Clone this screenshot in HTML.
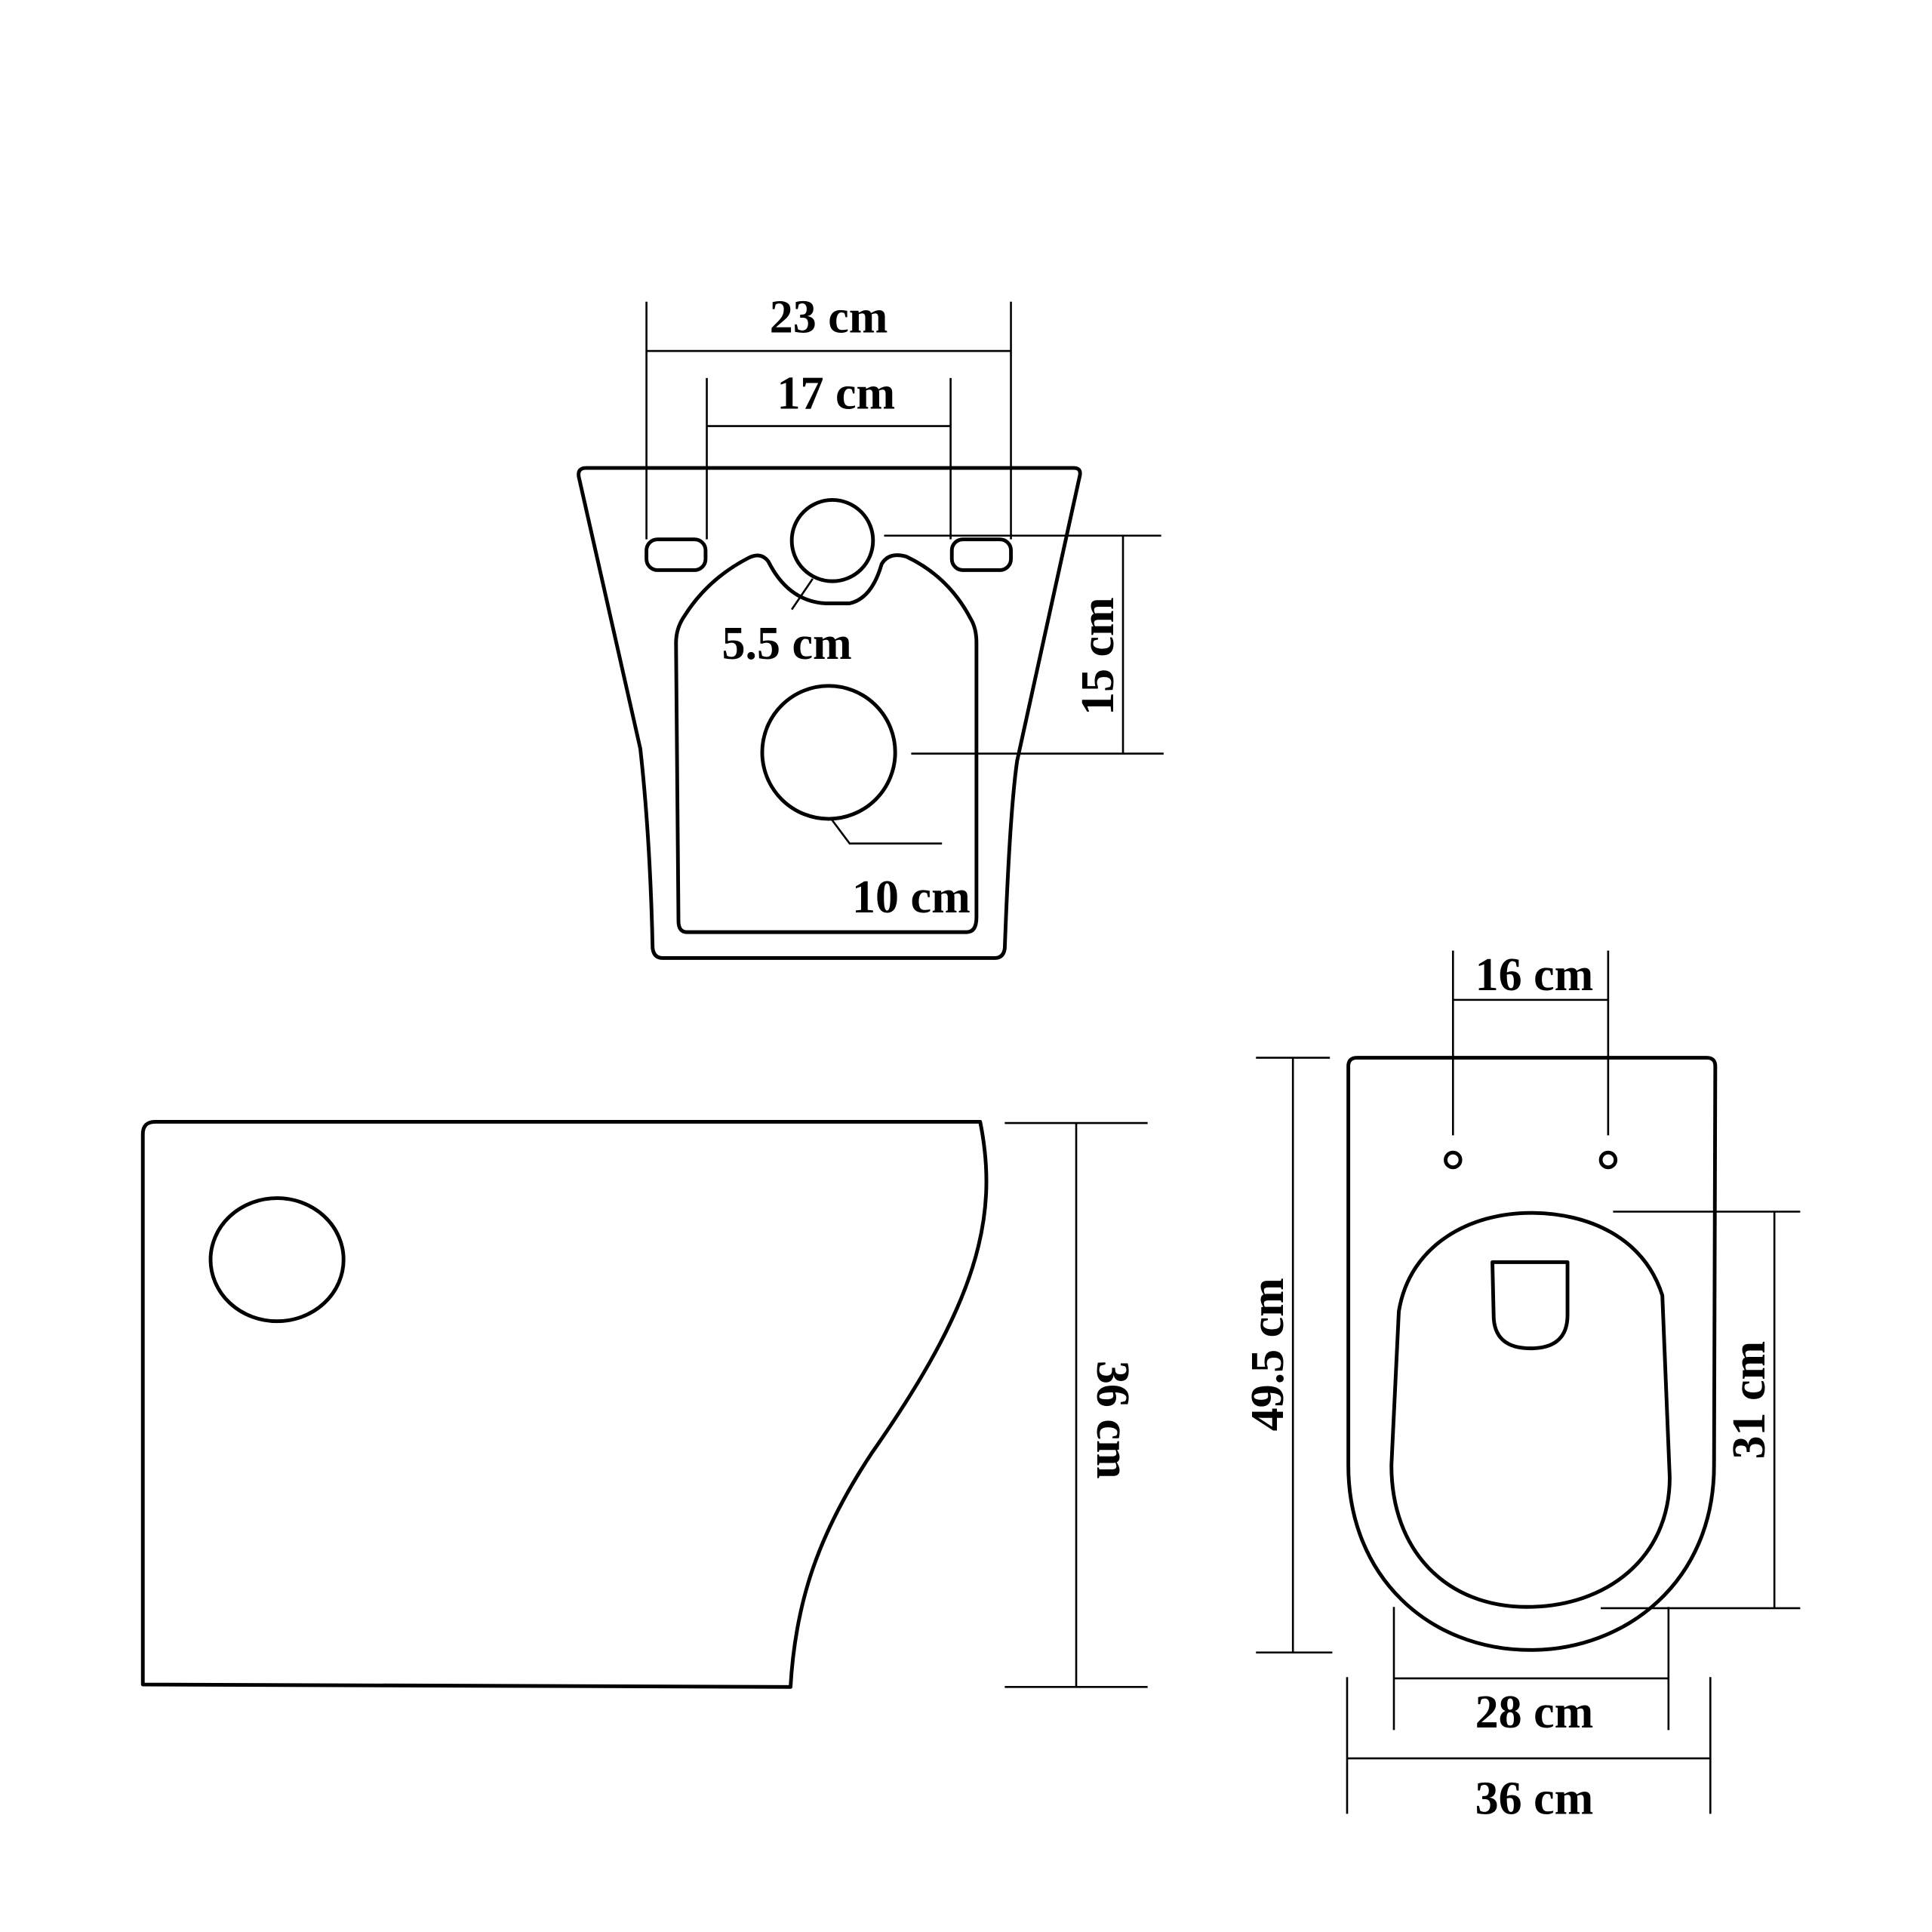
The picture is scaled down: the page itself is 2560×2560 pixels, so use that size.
<!DOCTYPE html>
<html><head><style>html,body{margin:0;padding:0;background:#fff}svg{display:block}
text{font-family:"Liberation Serif",serif;font-weight:bold;font-size:38px;fill:#000}</style></head>
<body>
<svg width="2560" height="2560" viewBox="0 0 1569 1569" xmlns="http://www.w3.org/2000/svg">
<g fill="none" stroke="#000" stroke-width="3" stroke-linejoin="round">
<path d="M476,380 L872,380 Q878,380 877,386 L826,618 Q820,660 816,770 Q815,778 808,778 L538,778 Q531,778 530,770 Q528,680 520,608 L470,387 Q469,380 476,380 Z"/>
<path d="M558,757 Q551,757 551,748 L549,522 Q549,510 556,500 Q575,470 608,453 Q618,448 624,456 Q640,488 670,490 L690,490 Q708,486 716,458 Q722,448 736,452 Q770,468 788,502 Q793,510 793,522 L793,745 Q793,757 785,757 Z"/>
<rect x="525" y="438" width="48" height="25" rx="9"/>
<rect x="773" y="438" width="48" height="25" rx="9"/>
<circle cx="676" cy="439" r="33"/>
<circle cx="673" cy="611" r="54"/>
<path d="M126,911 L796,911 C812,990 792,1060 708,1180 C665,1245 646,1300 642,1370 L116,1368 L116,921 Q116,911 126,911 Z"/>
<ellipse cx="225" cy="1023" rx="54" ry="50"/>
<path d="M1102,859 L1386,859 Q1393,859 1393,866 L1392,1190 C1392,1285 1320,1340 1243,1340 C1160,1340 1095,1280 1095,1190 L1095,866 Q1095,859 1102,859 Z"/>
<path d="M1136,1065 C1145,1010 1195,985 1243,985 C1290,985 1335,1005 1350,1052 L1356,1200 C1356,1265 1305,1305 1240,1305 C1175,1305 1130,1260 1130,1190 Z"/>
<path d="M1212,1025 L1273,1025 L1273,1068 Q1273,1095 1243,1095 Q1213,1095 1213,1068 Z"/>
<circle cx="1180" cy="942" r="6"/>
<circle cx="1306" cy="942" r="6"/>
</g>
<g fill="none" stroke="#000" stroke-width="1.6">
<path d="M525,245V438M821,245V438M525,285H821M574,307V438M772,307V438M574,346H772"/>
<path d="M718,435H943M740,612H945M912,435V612"/>
<path d="M660,470L643,495M675,665L690,685H765"/>
<path d="M816,912H932M816,1370H932M874,912V1370"/>
<path d="M1180,772V922M1306,772V922M1180,812H1306"/>
<path d="M1020,859H1080M1020,1342H1082M1050,859V1342"/>
<path d="M1310,984H1462M1300,1306H1462M1441,984V1306"/>
<path d="M1132,1305V1405M1355,1305V1405M1132,1363H1355"/>
<path d="M1094,1362V1473M1389,1362V1473M1094,1428H1389"/>
</g>
<text x="673" y="270" text-anchor="middle">23 cm</text>
<text x="679" y="332" text-anchor="middle">17 cm</text>
<text x="639" y="535" text-anchor="middle">5.5 cm</text>
<text x="740" y="741" text-anchor="middle">10 cm</text>
<text transform="translate(904,533) rotate(-90)" text-anchor="middle">15 cm</text>
<text transform="translate(891,1153) rotate(90)" text-anchor="middle">36 cm</text>
<text x="1246" y="804" text-anchor="middle">16 cm</text>
<text transform="translate(1042,1100) rotate(-90)" text-anchor="middle">49.5 cm</text>
<text transform="translate(1433,1137) rotate(-90)" text-anchor="middle">31 cm</text>
<text x="1246" y="1403" text-anchor="middle">28 cm</text>
<text x="1246" y="1473" text-anchor="middle">36 cm</text>
</svg>
</body></html>
